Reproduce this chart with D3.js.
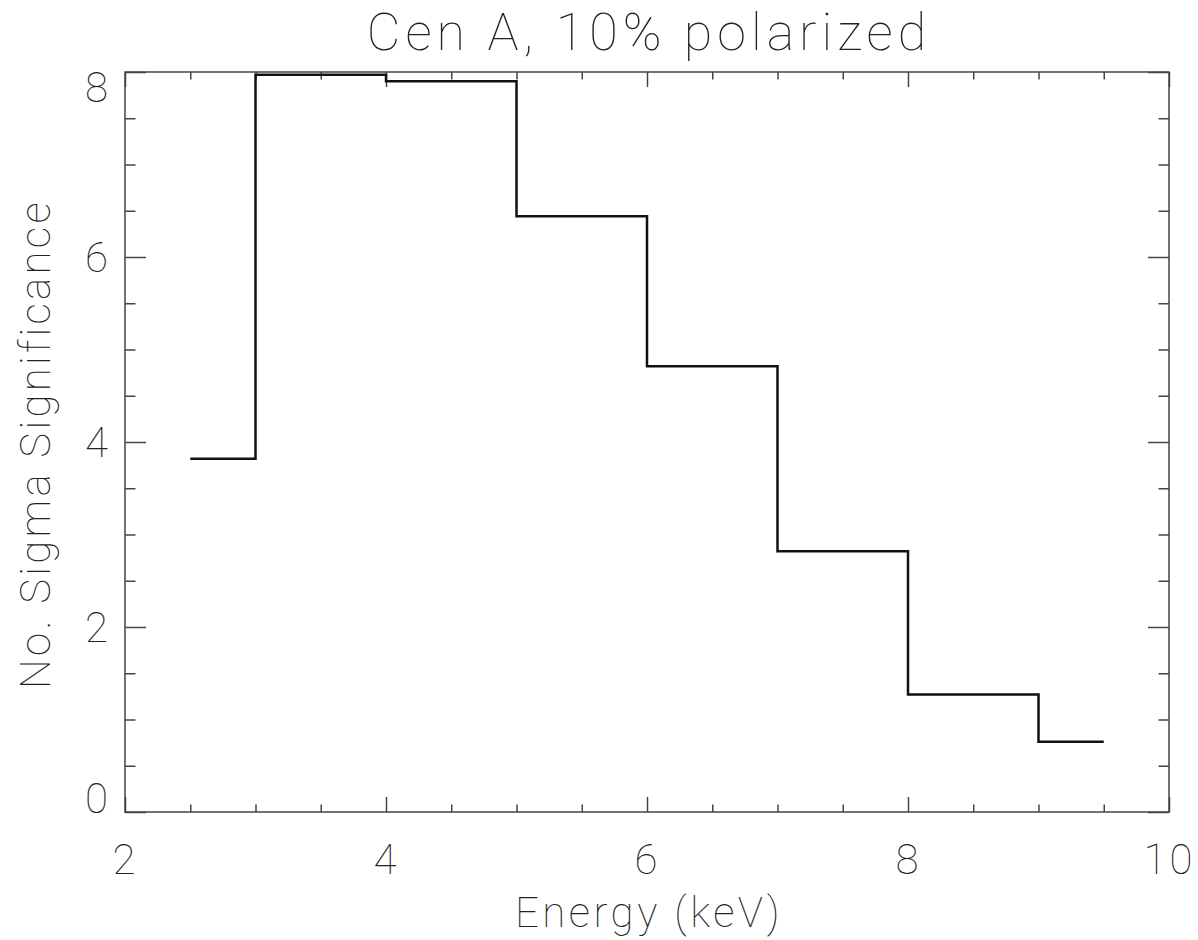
<!DOCTYPE html>
<html>
<head>
<meta charset="utf-8">
<script src="https://cdn.jsdelivr.net/npm/d3@7"></script>
<style>
  html, body { margin: 0; padding: 0; background: #fff; }
  svg text { font-family: "Roboto", "DejaVu Sans", sans-serif; font-weight: 100; fill: #222; }
</style>
</head>
<body>
<svg id="chart" width="1198" height="940"></svg>
<script>
// Histogram bin edges (keV) and significance per bin
const binEdges = [2.5, 3, 4, 5, 6, 7, 8, 9, 9.5];
const sigmaValues = [3.82, 7.97, 7.90, 6.44, 4.82, 2.82, 1.27, 0.76];

const xMajorTicks = [2, 4, 6, 8, 10];
const yMajorTicks = [0, 2, 4, 6, 8];

const titleText = "Cen A, 10% polarized";
const xTitle = "Energy (keV)";
const yTitle = "No. Sigma Significance";

const svg = d3.select("#chart");
const margin = { left: 125, right: 29, top: 72, bottom: 128 };
const W = 1198, H = 940;
const plotW = W - margin.left - margin.right;
const plotH = H - margin.top - margin.bottom;

const x = d3.scaleLinear().domain([2, 10]).range([margin.left, margin.left + plotW]);
const y = d3.scaleLinear().domain([0, 8]).range([margin.top + plotH, margin.top]);

const xMinor = d3.range(2, 10.001, 0.5).filter(v => !xMajorTicks.includes(v));
const yMinor = d3.range(0, 8.001, 0.5).filter(v => !yMajorTicks.includes(v));

const axisColor = "#444";
const majX = 15, minX = 7.5, majY = 21, minY = 10.5;

function styleAxis(g) {
  g.select(".domain").remove();
  g.selectAll(".tick line").attr("stroke", axisColor).attr("stroke-width", 1.5);
}

// Bottom axis: minor ticks, then major ticks with labels
svg.append("g").attr("transform", `translate(0,${y(0)})`)
  .call(d3.axisBottom(x).tickValues(xMinor).tickSize(-minX).tickFormat(""))
  .call(styleAxis);
const xb = svg.append("g").attr("transform", `translate(0,${y(0)})`)
  .call(d3.axisBottom(x).tickValues(xMajorTicks).tickSize(-majX).tickFormat(d3.format("d")))
  .call(styleAxis);
xb.selectAll(".tick text").attr("font-size", 42).attr("dy", "0.71em")
  .attr("y", 32).attr("letter-spacing", 3);

// Top axis (inward ticks, no labels)
svg.append("g").attr("transform", `translate(0,${y(8)})`)
  .call(d3.axisTop(x).tickValues(xMinor).tickSize(-minX).tickFormat(""))
  .call(styleAxis);
svg.append("g").attr("transform", `translate(0,${y(8)})`)
  .call(d3.axisTop(x).tickValues(xMajorTicks).tickSize(-majX).tickFormat(""))
  .call(styleAxis);

// Left axis with labels; end labels kept inside the frame height
svg.append("g").attr("transform", `translate(${x(2)},0)`)
  .call(d3.axisLeft(y).tickValues(yMinor).tickSize(-minY).tickFormat(""))
  .call(styleAxis);
const yl = svg.append("g").attr("transform", `translate(${x(2)},0)`)
  .call(d3.axisLeft(y).tickValues(yMajorTicks).tickSize(-majY).tickFormat(d3.format("d")))
  .call(styleAxis);
yl.selectAll(".tick text").attr("font-size", 42).attr("x", -17)
  .attr("dy", d => d === 8 ? "0.71em" : d === 0 ? "0em" : "0.355em");

// Right axis (inward ticks, no labels)
svg.append("g").attr("transform", `translate(${x(10)},0)`)
  .call(d3.axisRight(y).tickValues(yMinor).tickSize(-minY).tickFormat(""))
  .call(styleAxis);
svg.append("g").attr("transform", `translate(${x(10)},0)`)
  .call(d3.axisRight(y).tickValues(yMajorTicks).tickSize(-majY).tickFormat(""))
  .call(styleAxis);

// Plot frame
svg.append("rect")
  .attr("x", x(2)).attr("y", y(8))
  .attr("width", x(10) - x(2)).attr("height", y(0) - y(8))
  .attr("fill", "none").attr("stroke", axisColor).attr("stroke-width", 1.5);

// Step histogram
const stepPts = [];
sigmaValues.forEach((v, i) => {
  stepPts.push([binEdges[i], v]);
  stepPts.push([binEdges[i + 1], v]);
});
svg.append("path")
  .datum(stepPts)
  .attr("fill", "none")
  .attr("stroke", "#111")
  .attr("stroke-width", 2.5)
  .attr("d", d3.line().x(d => x(d[0])).y(d => y(d[1])));

// Titles
const cx = (x(2) + x(10)) / 2;
svg.append("text")
  .attr("x", cx + 2).attr("y", 50)
  .attr("text-anchor", "middle").attr("font-size", 52)
  .attr("letter-spacing", 5)
  .text(titleText);

svg.append("text")
  .attr("x", cx + 2).attr("y", 927)
  .attr("text-anchor", "middle").attr("font-size", 42)
  .attr("letter-spacing", 3.5)
  .text(xTitle);

svg.append("text")
  .attr("transform", `translate(50,${(y(0) + y(8)) / 2 + 2}) rotate(-90)`)
  .attr("text-anchor", "middle").attr("font-size", 42)
  .attr("letter-spacing", 3.3)
  .text(yTitle);
</script>
</body>
</html>
